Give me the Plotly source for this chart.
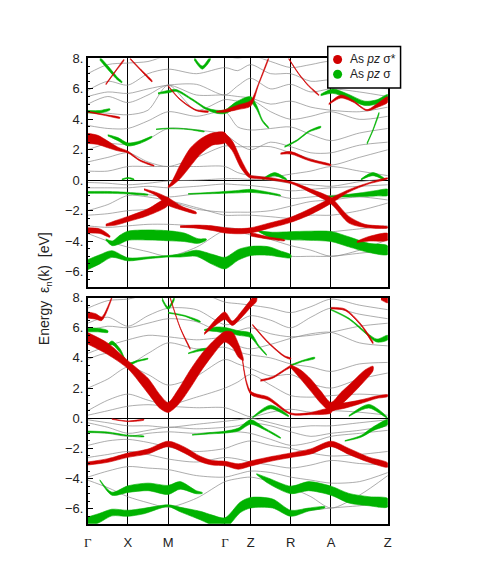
import plotly.graph_objects as go

# high-symmetry path (path length units, Gamma-X = 1)
K_HS = [0.0, 1.0, 2.0, 3.414, 4.054, 5.054, 6.054, 7.468]
K_LABELS = ["Γ", "X", "M", "Γ", "Z", "R", "A", "Z"]
# nodes + midpoints for the thin bands
K_GRID = [0.0, 0.5, 1.0, 1.5, 2.0, 2.707, 3.414, 3.734, 4.054, 4.554, 5.054, 5.554, 6.054, 6.761, 7.468]

Y_TICKS = [-6, -4, -2, 0, 2, 4, 6, 8]
Y_TICKTEXT = ["−6.", "−4.", "−2.", "0.", "2.", "4.", "6.", "8."]

LEGEND_NAMES = ["As <i>pz</i> σ*", "As <i>pz</i> σ"]

# ---- top panel: thin bands (eV on K_GRID) ----
TOP_GRAY = [
    [-0.15, -0.2, -0.3, -0.2, -0.05, 0.0, 0.1, 0.1, 0.05, 0.0, -0.2, -0.3, -0.4, -0.1, 0.1],
    [-0.5, -0.5, -0.5, -0.4, -0.5, -0.4, -0.25, -0.3, -0.35, -0.5, -0.7, -0.6, -0.5, -0.4, -0.3],
    [-0.8, -0.8, -0.85, -0.95, -1.1, -0.9, -0.8, -0.75, -0.7, -0.9, -1.2, -1.1, -1.0, -0.9, -0.8],
    [-2.0, -1.6, -1.0, -1.1, -1.35, -1.9, -2.1, -2.1, -2.1, -2.0, -1.7, -1.4, -1.3, -1.1, -1.3],
    [-2.3, -2.2, -2.0, -1.9, -1.4, -1.8, -2.3, -2.3, -2.3, -2.4, -2.5, -2.3, -2.3, -2.0, -1.5],
    [-3.0, -3.1, -3.0, -2.9, -2.9, -3.0, -3.1, -3.2, -3.3, -3.5, -3.9, -3.6, -3.4, -3.2, -3.0],
    [-3.5, -4.0, -4.4, -4.7, -5.0, -4.4, -3.3, -3.4, -3.6, -3.9, -4.3, -4.6, -5.0, -4.6, -3.9],
    [-5.55, -5.0, -5.2, -5.1, -5.0, -4.9, -5.45, -4.9, -4.65, -4.7, -5.0, -5.0, -5.0, -4.8, -4.6],
    [0.6, 0.6, 0.9, 0.9, 0.9, 0.9, 0.9, 0.5, 0.3, 0.2, 0.4, 0.6, 0.9, 0.6, 0.3],
    [1.2, 1.5, 1.8, 1.2, 0.9, 1.5, 2.25, 2.2, 2.2, 2.2, 1.8, 1.4, 1.0, 1.5, 2.0],
    [2.0, 2.4, 2.35, 2.7, 3.4, 3.3, 3.0, 2.4, 2.0, 2.5, 2.2, 1.8, 1.8, 2.3, 2.5],
    [3.6, 3.4, 3.4, 3.9, 4.5, 4.2, 4.5, 3.5, 3.3, 3.4, 3.5, 3.0, 2.6, 3.1, 3.4],
    [4.5, 4.4, 4.3, 4.6, 6.25, 4.6, 5.3, 5.2, 5.3, 4.5, 4.0, 4.2, 4.5, 4.0, 4.2],
    [5.0, 5.5, 5.1, 5.6, 6.25, 5.6, 5.6, 5.5, 5.4, 5.0, 5.2, 4.8, 4.6, 4.5, 4.8],
    [5.5, 5.8, 5.7, 6.0, 6.25, 6.3, 5.6, 6.2, 6.7, 6.0, 6.3, 5.8, 6.0, 5.8, 5.5],
    [5.9, 6.5, 6.25, 7.0, 7.3, 7.0, 7.4, 7.2, 7.6, 7.0, 7.0, 6.5, 6.6, 6.3, 6.0],
    [7.0, 7.6, 7.7, 7.8, 8.2, 8.3, 8.2, 8.0, 8.2, 7.8, 7.4, 7.6, 7.8, 7.0, 6.5],
]

# ---- top panel: fat bands (k, energy, half width in eV) ----
TOP_RED = [
    ([0, 0.25, 0.5, 0.75, 1.0, 1.3, 1.65], [2.75, 2.65, 2.35, 2.05, 1.85, 1.3, 0.95], [0.33, 0.3, 0.22, 0.12, 0.06, 0.04, 0.02]),
    ([2.0, 2.1, 2.3, 2.55, 2.8, 3.1, 3.414], [-0.45, -0.2, 0.55, 1.5, 2.2, 2.7, 2.8], [0.05, 0.15, 0.45, 0.6, 0.5, 0.4, 0.33]),
    ([3.414, 3.6, 3.8, 3.98, 4.054], [2.8, 2.25, 1.15, 0.4, 0.22], [0.3, 0.32, 0.3, 0.15, 0.08]),
    ([4.054, 4.5, 5.054, 5.55, 6.054, 6.5, 6.9, 7.468], [0.22, 0.1, -0.15, -0.7, -1.35, -2.6, -3.0, -3.1], [0.08, 0.07, 0.06, 0.12, 0.2, 0.22, 0.1, 0.04]),
    ([2.3, 2.7, 3.1, 3.414, 3.75, 4.054, 4.5, 5.054, 5.55, 6.054, 6.5, 7.0, 7.468],
     [-3.05, -3.05, -3.15, -3.3, -3.35, -3.3, -3.0, -2.6, -2.05, -1.35, -0.7, -0.2, 0.12],
     [0.05, 0.1, 0.15, 0.17, 0.17, 0.17, 0.17, 0.17, 0.2, 0.18, 0.08, 0.04, 0.03]),
    ([4.054, 4.5, 4.9], [-3.55, -3.8, -3.95], [0.12, 0.07, 0.03]),
    ([6.7, 7.0, 7.468], [-4.05, -3.85, -3.72], [0.04, 0.15, 0.22]),
    ([0, 0.3, 0.55], [-3.3, -3.35, -3.7], [0.17, 0.15, 0.05]),
    ([0.45, 0.7, 1.0, 1.5, 2.0], [-2.95, -2.8, -2.55, -2.1, -1.4], [0.06, 0.15, 0.17, 0.22, 0.25]),
    ([1.4, 1.7, 2.0, 2.35, 2.7], [-0.6, -0.9, -1.4, -1.85, -2.15], [0.04, 0.1, 0.25, 0.12, 0.05]),
    ([3.2, 3.414, 3.75, 4.054, 4.25, 4.5], [4.5, 4.55, 4.8, 5.05, 6.3, 8.0], [0.03, 0.08, 0.15, 0.18, 0.06, 0.04]),
    ([5.0, 5.25, 5.5, 5.75], [8.0, 7.0, 6.2, 5.6], [0.03, 0.03, 0.03, 0.03]),
    ([6.0, 6.3, 6.6, 6.95, 7.2, 7.468], [5.0, 5.5, 5.2, 4.6, 4.9, 5.3], [0.04, 0.1, 0.06, 0.04, 0.12, 0.18]),
    ([4.8, 5.054, 5.5, 6.054], [1.75, 1.8, 1.35, 1.0], [0.04, 0.08, 0.06, 0.03]),
    ([0.45, 0.7, 0.9], [6.3, 7.2, 7.9], [0.04, 0.04, 0.04]),
    ([1.05, 1.3, 1.6], [8.0, 7.3, 6.5], [0.04, 0.04, 0.04]),
    ([2.0, 2.3, 2.7, 3.0], [6.2, 5.3, 4.6, 4.5], [0.03, 0.03, 0.03, 0.03]),
    ([0, 0.4, 0.8], [4.5, 4.3, 4.1], [0.03, 0.03, 0.03]),
]

TOP_GREEN = [
    ([0, 0.3, 0.6, 1.0, 1.5, 2.0, 2.3, 2.7, 3.1, 3.414, 3.75, 4.054, 4.5, 4.8, 5.054],
     [-5.55, -5.2, -4.85, -5.2, -5.1, -5.0, -4.95, -4.8, -5.2, -5.45, -4.9, -4.65, -4.65, -4.85, -5.0],
     [0.33, 0.3, 0.22, 0.1, 0.06, 0.05, 0.1, 0.2, 0.33, 0.38, 0.35, 0.3, 0.28, 0.2, 0.1]),
    ([0.45, 0.61, 0.8, 1.0, 1.5, 2.0, 2.4, 2.75, 2.95], [-3.9, -4.15, -3.9, -3.65, -3.6, -3.65, -3.75, -4.0, -3.9],
     [0.04, 0.15, 0.28, 0.3, 0.33, 0.33, 0.28, 0.15, 0.04]),
    ([4.25, 4.6, 5.054, 5.5, 6.054, 6.5, 7.0, 7.468], [-3.35, -3.62, -3.65, -3.65, -3.7, -4.05, -4.45, -4.6],
     [0.03, 0.2, 0.27, 0.3, 0.33, 0.33, 0.3, 0.28]),
    ([0, 0.5, 1.0, 1.5], [-0.8, -0.8, -0.85, -0.95], [0.06, 0.06, 0.05, 0.02]),
    ([2.5, 3.0, 3.414, 3.75, 4.054, 4.5, 4.8], [-0.9, -0.85, -0.8, -0.75, -0.7, -0.85, -1.0], [0.02, 0.04, 0.06, 0.08, 0.1, 0.06, 0.02]),
    ([5.8, 6.3, 6.8, 7.2, 7.468], [-1.1, -1.05, -0.95, -0.85, -0.8], [0.02, 0.06, 0.12, 0.18, 0.2]),
    ([0.5, 0.75, 1.0, 1.3, 1.6], [2.95, 2.7, 2.35, 2.5, 2.85], [0.04, 0.1, 0.1, 0.08, 0.03]),
    ([0, 0.3, 0.55], [4.5, 4.5, 4.65], [0.08, 0.08, 0.04]),
    ([0.3, 0.5, 0.75, 0.85], [8.0, 7.4, 6.65, 6.45], [0.1, 0.12, 0.08, 0.04]),
    ([1.75, 2.0, 2.2, 2.6, 2.95, 3.2, 3.414, 3.7, 4.054, 4.2, 4.35, 4.5],
     [5.7, 5.82, 5.9, 5.3, 4.7, 4.5, 4.5, 4.95, 5.3, 4.8, 3.9, 3.45],
     [0.04, 0.08, 0.06, 0.05, 0.06, 0.1, 0.12, 0.2, 0.2, 0.14, 0.06, 0.03]),
    ([2.65, 2.85, 3.05], [8.0, 7.4, 8.0], [0.1, 0.1, 0.1]),
    ([4.9, 5.2, 5.5, 5.8], [2.2, 2.6, 3.2, 3.5], [0.04, 0.04, 0.04, 0.04]),
    ([4.35, 4.65, 4.95], [0.05, 0.4, 0.05], [0.03, 0.1, 0.03]),
    ([6.8, 7.1, 7.4], [0.05, 0.4, 0.05], [0.03, 0.1, 0.03]),
    ([5.8, 6.1, 6.45, 6.9, 7.2, 7.468], [5.6, 5.85, 5.55, 5.05, 5.15, 5.45], [0.05, 0.14, 0.14, 0.14, 0.14, 0.18]),
    ([6.95, 7.1, 7.25], [2.4, 3.3, 4.4], [0.05, 0.05, 0.05]),
    ([0.85, 1.0, 1.15], [0.05, 0.15, 0.05], [0.03, 0.03, 0.03]),
    ([1.7, 2.0, 2.5, 2.9], [3.35, 3.4, 3.35, 3.2], [0.02, 0.02, 0.02, 0.02]),
]

# ---- bottom panel: thin bands ----
BOT_GRAY = [
    [-0.1, -0.3, -0.5, -0.5, -0.6, -0.4, -0.2, -0.1, 0.0, -0.3, -0.6, -0.5, -0.5, -0.3, -0.1],
    [-0.3, -0.6, -1.0, -0.8, -0.6, -0.7, -0.6, -0.5, -0.3, -0.5, -0.9, -1.2, -1.0, -0.8, -0.5],
    [-0.9, -1.0, -1.2, -1.0, -0.9, -1.0, -0.9, -0.9, -1.0, -1.4, -1.8, -1.6, -1.2, -1.0, -0.8],
    [-1.8, -1.5, -1.4, -1.6, -1.9, -2.2, -2.0, -1.7, -1.5, -1.8, -2.0, -2.3, -2.5, -2.4, -2.2],
    [-2.6, -2.4, -2.2, -2.4, -2.7, -2.9, -2.6, -2.7, -2.9, -3.1, -3.3, -3.1, -2.8, -3.0, -3.1],
    [-3.9, -3.5, -3.2, -3.3, -3.4, -3.8, -3.9, -3.7, -3.5, -3.6, -3.9, -4.1, -4.3, -4.2, -3.6],
    [-4.1, -4.6, -5.2, -5.6, -5.9, -5.3, -4.2, -4.0, -3.9, -4.2, -4.6, -5.2, -5.95, -5.1, -3.8],
    [-6.9, -6.4, -6.3, -6.0, -5.8, -6.2, -6.95, -6.0, -5.6, -5.7, -6.3, -6.1, -5.95, -5.8, -5.6],
    [0.2, 0.5, 0.8, 0.9, 0.8, 0.7, 0.7, 0.4, 0.1, 0.4, 0.6, 0.4, 0.5, 0.4, 0.2],
    [0.5, 1.2, 1.6, 1.2, 0.9, 1.4, 2.0, 2.4, 2.9, 2.2, 1.5, 1.4, 1.5, 1.6, 1.5],
    [2.0, 2.6, 3.4, 2.9, 2.2, 2.8, 3.9, 3.6, 3.3, 2.8, 2.9, 2.3, 2.0, 2.6, 3.0],
    [3.9, 4.3, 3.6, 4.3, 5.0, 4.6, 4.7, 4.4, 4.2, 4.0, 3.6, 3.4, 3.1, 3.6, 3.7],
    [4.3, 4.8, 5.2, 5.5, 5.4, 5.2, 5.3, 4.8, 4.6, 4.9, 5.3, 5.6, 5.7, 5.0, 4.8],
    [5.8, 6.1, 6.0, 6.3, 6.6, 6.4, 5.6, 5.8, 6.0, 5.6, 5.4, 5.5, 5.7, 6.1, 6.3],
    [6.3, 6.7, 6.1, 6.8, 7.3, 7.2, 6.2, 6.4, 6.8, 6.5, 6.0, 6.7, 7.3, 6.9, 6.6],
    [7.3, 7.8, 7.9, 8.2, 8.3, 8.4, 7.7, 7.6, 7.5, 7.3, 7.0, 7.4, 7.9, 7.5, 7.2],
]

BOT_RED = [
    ([0, 0.5, 1.0, 1.5, 1.8, 2.0, 2.25, 2.55, 2.8, 3.1, 3.414, 3.6, 3.75, 3.87],
     [5.3, 4.6, 3.55, 2.15, 1.1, 0.72, 1.4, 2.6, 3.6, 4.6, 5.4, 5.2, 4.5, 3.9],
     [0.38, 0.38, 0.27, 0.5, 0.45, 0.33, 0.5, 0.6, 0.55, 0.45, 0.35, 0.5, 0.45, 0.08]),
    ([3.85, 4.054, 4.5, 5.054, 5.5, 6.054], [3.9, 1.7, 1.3, 0.3, 0.3, 0.5], [0.05, 0.1, 0.1, 0.05, 0.06, 0.15]),
    ([5.054, 5.3, 5.55, 5.8, 6.054, 6.3, 6.6, 6.9, 7.1], [3.45, 2.9, 2.2, 1.4, 0.75, 1.3, 2.05, 2.85, 3.3],
     [0.1, 0.3, 0.4, 0.4, 0.3, 0.4, 0.4, 0.35, 0.15]),
    ([6.054, 6.4, 6.8, 7.2, 7.468], [0.75, 0.85, 1.1, 1.4, 1.5], [0.25, 0.18, 0.12, 0.08, 0.06]),
    ([0, 0.5, 1.0, 1.5, 2.0, 2.4, 2.8, 3.1, 3.414, 3.75, 4.054, 4.55, 5.054, 5.55, 6.054, 6.5, 7.0, 7.468],
     [-3.0, -2.8, -2.45, -2.2, -1.7, -2.1, -2.7, -2.95, -3.0, -3.2, -3.0, -2.7, -2.45, -2.2, -1.7, -2.2, -2.75, -3.1],
     [0.1, 0.12, 0.14, 0.16, 0.18, 0.2, 0.18, 0.15, 0.15, 0.18, 0.17, 0.15, 0.15, 0.17, 0.18, 0.2, 0.17, 0.14]),
    ([0, 0.2, 0.35, 0.6], [6.85, 6.75, 6.6, 8.0], [0.2, 0.18, 0.12, 0.03]),
    ([2.05, 2.3, 2.55], [8.0, 6.0, 4.6], [0.03, 0.03, 0.03]),
    ([2.9, 3.2, 3.414, 3.6, 3.8, 4.054, 4.2], [5.6, 6.4, 6.8, 6.3, 6.8, 7.6, 8.0], [0.05, 0.2, 0.25, 0.15, 0.2, 0.25, 0.25]),
    ([4.1, 4.5, 4.9, 5.054], [6.2, 5.0, 4.1, 3.95], [0.04, 0.04, 0.04, 0.04]),
    ([4.3, 4.6, 4.9, 5.054], [2.5, 2.7, 3.2, 3.45], [0.05, 0.05, 0.05, 0.05]),
    ([6.054, 6.4, 6.8, 7.1], [7.3, 7.2, 6.2, 5.0], [0.05, 0.05, 0.05, 0.05]),
    ([7.3, 7.468], [8.0, 7.8], [0.15, 0.15]),
    ([0.6, 1.0, 1.4], [-0.05, -0.2, -0.1], [0.02, 0.02, 0.02]),
]

BOT_GREEN = [
    ([0, 0.3, 0.6, 1.0, 1.4, 2.0, 2.3, 2.8, 3.1, 3.414, 3.8, 4.054, 4.6, 5.054, 5.5, 5.9],
     [-6.9, -6.6, -6.25, -6.3, -6.15, -5.8, -6.05, -6.45, -6.75, -6.95, -5.9, -5.6, -5.65, -6.3, -6.05, -5.9],
     [0.35, 0.3, 0.22, 0.2, 0.18, 0.06, 0.15, 0.28, 0.33, 0.35, 0.35, 0.35, 0.3, 0.2, 0.1, 0.04]),
    ([0.3, 0.6, 1.0, 1.5, 2.0, 2.3, 2.7, 2.85], [-4.1, -5.0, -4.7, -4.55, -4.75, -4.45, -4.9, -4.95],
     [0.03, 0.1, 0.22, 0.25, 0.3, 0.25, 0.1, 0.03]),
    ([4.2, 4.5, 5.054, 5.5, 6.054, 6.5, 7.0, 7.468], [-3.7, -4.15, -4.75, -4.5, -4.8, -5.3, -5.5, -5.6],
     [0.03, 0.18, 0.25, 0.3, 0.3, 0.32, 0.3, 0.28]),
    ([0, 0.5, 1.0, 1.4], [-0.9, -0.95, -1.15, -1.2], [0.05, 0.04, 0.03, 0.02]),
    ([2.6, 3.0, 3.414, 3.75, 4.054, 4.4, 4.8], [-1.1, -1.0, -0.92, -0.75, -0.25, -0.7, -1.3], [0.02, 0.04, 0.06, 0.1, 0.15, 0.06, 0.02]),
    ([6.4, 6.8, 7.1, 7.468], [-1.5, -1.2, -0.7, -0.25], [0.02, 0.06, 0.12, 0.16]),
    ([4.1, 4.55, 5.0], [0.05, 0.75, 0.15], [0.03, 0.12, 0.03]),
    ([6.5, 7.0, 7.45], [0.15, 0.8, 0.05], [0.03, 0.12, 0.03]),
    ([0, 0.25, 0.5], [5.85, 5.85, 5.75], [0.12, 0.12, 0.06]),
    ([0.45, 0.6, 0.8, 1.0, 1.25, 1.5], [4.7, 5.0, 4.5, 3.6, 3.8, 3.95], [0.03, 0.12, 0.12, 0.08, 0.04, 0.02]),
    ([2.5, 2.75, 3.0], [4.3, 4.5, 4.6], [0.02, 0.06, 0.04]),
    ([1.85, 2.0, 2.15], [7.9, 7.3, 7.9], [0.08, 0.08, 0.08]),
    ([2.0, 2.4, 2.8], [7.0, 6.8, 6.4], [0.03, 0.03, 0.03]),
    ([2.9, 3.2, 3.414, 3.75, 4.054, 4.25, 4.45], [5.85, 5.9, 5.85, 5.65, 5.5, 4.8, 4.2], [0.03, 0.15, 0.17, 0.15, 0.15, 0.06, 0.02]),
    ([5.054, 5.35, 5.65], [3.5, 3.8, 4.0], [0.04, 0.04, 0.04]),
    ([6.054, 6.5, 6.95, 7.2, 7.468], [7.2, 6.6, 5.6, 5.15, 5.35], [0.03, 0.04, 0.06, 0.1, 0.15]),
]

RED = "#d10000"
GREEN = "#00b300"
GRAY = "#8a8a8a"
FONT = "Liberation Sans, Arial, sans-serif"


def fat_band(k, e, w, color, xa, ya):
    xs = list(k) + list(k)[::-1]
    ys = [a + b for a, b in zip(e, w)] + [a - b for a, b in zip(e, w)][::-1]
    return go.Scatter(x=xs, y=ys, mode="lines", fill="toself", fillcolor=color,
                      line=dict(color=color, width=0.6, shape="spline", smoothing=0.8),
                      hoverinfo="skip", showlegend=False, xaxis=xa, yaxis=ya)


def thin_band(e, xa, ya):
    return go.Scatter(x=K_GRID, y=e, mode="lines",
                      line=dict(color=GRAY, width=0.7, shape="spline", smoothing=0.8),
                      hoverinfo="skip", showlegend=False, xaxis=xa, yaxis=ya)


fig = go.Figure()
for xa, ya, gray, green, red in [("x", "y", TOP_GRAY, TOP_GREEN, TOP_RED),
                                 ("x2", "y2", BOT_GRAY, BOT_GREEN, BOT_RED)]:
    for e in gray:
        fig.add_trace(thin_band(e, xa, ya))
    for k, e, w in green:
        fig.add_trace(fat_band(k, e, w, GREEN, xa, ya))
    for k, e, w in red:
        fig.add_trace(fat_band(k, e, w, RED, xa, ya))

W, H = 491, 587
# the page puts the plot a little right/down; positions below are target pixels minus that shift
DX, DY = 10, 13


def px(x):
    return (x - DX) / W


def py(y):
    return 1 - (y - DY) / H


gamma = '<span style="font-family:Liberation Serif, serif">Γ</span>'
xlab = [gamma if s == "Γ" else s for s in K_LABELS]

common_x = dict(range=[0, K_HS[-1]], domain=[px(87), px(392)], tickvals=K_HS, showgrid=True,
                gridcolor="black", gridwidth=1.3, showline=True, linecolor="black",
                linewidth=1.5, mirror=True, ticks="", zeroline=False)
common_y = dict(range=[-7, 8], tickvals=Y_TICKS, ticktext=Y_TICKTEXT, showgrid=False,
                zeroline=True, zerolinecolor="black", zerolinewidth=1.3,
                showline=True, linecolor="black", linewidth=1.5, mirror=True,
                ticks="inside", ticklen=6, tickwidth=1, tickcolor="black",
                minor=dict(dtick=0.5, ticks="inside", ticklen=3, tickcolor="black", showgrid=False),
                tickfont=dict(family=FONT, size=13, color="#222"))

# hand-drawn legend box (sits over the top-right corner, like the original)
shapes = [dict(type="rect", xref="paper", yref="paper", x0=px(331), x1=px(405),
               y0=py(87), y1=py(45), fillcolor="white", line=dict(color="black", width=1.5),
               layer="above")]
annotations = []
for i, (name, col) in enumerate(zip(LEGEND_NAMES, [RED, GREEN])):
    yc = py(58 + 15 * i)
    shapes.append(dict(type="circle", xref="paper", yref="paper", xsizemode="pixel",
                       ysizemode="pixel", xanchor=px(341), yanchor=yc, x0=-4.5, x1=4.5,
                       y0=-4.5, y1=4.5, fillcolor=col, line=dict(color=col, width=0),
                       layer="above"))
    annotations.append(dict(text=name, x=px(352), y=yc, xref="paper", yref="paper",
                            xanchor="left", yanchor="middle", showarrow=False,
                            font=dict(family=FONT, size=12, color="#222")))

annotations.append(dict(text="Energy  ε<sub>n</sub>(k)  [eV]", textangle=-90,
                        x=px(43), y=py(290), xref="paper", yref="paper",
                        xanchor="center", yanchor="middle",
                        showarrow=False, font=dict(family=FONT, size=14, color="#222")))

fig.update_layout(
    width=W, height=H, autosize=False,
    margin=dict(l=0, r=0, t=0, b=0),
    paper_bgcolor="white", plot_bgcolor="white",
    xaxis=dict(common_x, anchor="y", showticklabels=False),
    yaxis=dict(common_y, anchor="x", domain=[py(288), py(57)]),
    xaxis2=dict(common_x, anchor="y2", ticktext=xlab, showticklabels=True,
                ticklabelstandoff=6, tickfont=dict(family=FONT, size=13, color="#222")),
    yaxis2=dict(common_y, anchor="x2", domain=[py(528), py(299)]),
    showlegend=False,
    shapes=shapes,
    annotations=annotations,
)

fig.write_html("out.html")
